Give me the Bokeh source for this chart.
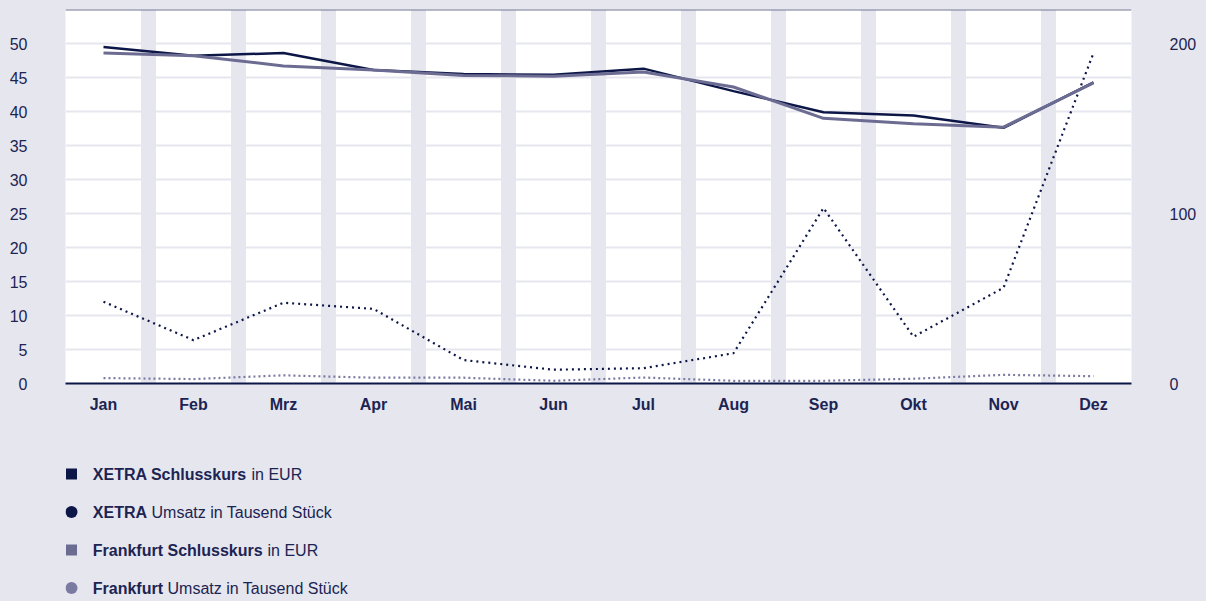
from bokeh.plotting import figure
from bokeh.models import Range1d, LinearAxis, FixedTicker, Span
from bokeh.layouts import column
from bokeh.core.properties import value
from bokeh.embed import file_html
from bokeh.resources import INLINE

# ---------------- data ----------------
months = ["Jan", "Feb", "Mrz", "Apr", "Mai", "Jun", "Jul", "Aug", "Sep", "Okt", "Nov", "Dez"]
xetra_kurs = [49.5, 48.2, 48.6, 46.1, 45.5, 45.4, 46.3, 43.0, 39.9, 39.4, 37.6, 44.3]
frankfurt_kurs = [48.6, 48.2, 46.7, 46.1, 45.3, 45.2, 45.8, 43.6, 39.0, 38.2, 37.7, 44.2]
xetra_umsatz = [48.1, 25.5, 47.5, 43.9, 13.8, 8.1, 9.0, 17.8, 103.2, 27.5, 56.3, 194.4]
frankfurt_umsatz = [3.2, 2.6, 4.8, 3.4, 3.4, 1.6, 3.5, 1.6, 1.6, 2.8, 5.1, 4.3]
left_ticks = [0, 5, 10, 15, 20, 25, 30, 35, 40, 45, 50]
right_ticks = [0, 100, 200]
legend_bold = ["XETRA Schlusskurs", "XETRA", "Frankfurt Schlusskurs", "Frankfurt"]
legend_regular = ["in EUR", "Umsatz in Tausend Stück", "in EUR", "Umsatz in Tausend Stück"]
legend_marker = ["square", "circle", "square", "circle"]

# ---------------- style ----------------
BG = "#e6e6ef"
NAVY = "#0d1747"
TXT = "#1b2452"
FRANK = "#6c6c93"
FRANK_LIGHT = "#7b7ba1"
FONT = "Liberation Sans"
W = 1206
FRAME_L, FRAME_R = 65, 1131

x = list(range(len(months)))

p = figure(width=W, height=428, output_backend="svg", toolbar_location=None, tools="",
           x_range=Range1d(-0.4222, 11.4222), y_range=Range1d(0, 55),
           min_border_left=FRAME_L, min_border_right=W - FRAME_R, min_border_top=9, min_border_bottom=45)
p.extra_y_ranges = {"r": Range1d(0, 220)}
p.background_fill_color = "white"
p.border_fill_color = BG
p.outline_line_color = None

# vertical bands between months
band_w = 15 / 90.0
p.quad(left=[i + 0.5 - band_w / 2 for i in range(11)],
       right=[i + 0.5 + band_w / 2 for i in range(11)],
       bottom=0, top=55, fill_color=BG, line_color=None)

# grid
p.xgrid.grid_line_color = None
p.ygrid.ticker = FixedTicker(ticks=left_ticks)
p.ygrid.grid_line_color = BG
p.ygrid.grid_line_width = 2

# lines
p.line(x, xetra_umsatz, y_range_name="r", line_color=NAVY, line_width=2.2, line_dash="2 4")
p.line(x, frankfurt_umsatz, y_range_name="r", line_color=FRANK_LIGHT, line_width=2.2, line_dash="2 3")
p.line(x, xetra_kurs, line_color=NAVY, line_width=2.5)
p.line(x, frankfurt_kurs, line_color=FRANK, line_width=3)

p.add_layout(Span(location=55, dimension="width", line_color="#6e7591", line_width=2))

# axes
xa = p.xaxis[0]
xa.ticker = FixedTicker(ticks=x)
xa.major_label_overrides = {i: m for i, m in enumerate(months)}
xa.axis_line_color = NAVY
xa.axis_line_width = 2
xa.major_tick_line_color = None
xa.minor_tick_line_color = None
xa.major_tick_out = 0
xa.major_label_standoff = 12
xa.major_label_text_font = FONT
xa.major_label_text_font_style = "bold"
xa.major_label_text_font_size = "16px"
xa.major_label_text_color = TXT

ya = p.yaxis[0]
ya.ticker = FixedTicker(ticks=left_ticks)
ya.axis_line_color = None
ya.major_tick_line_color = None
ya.minor_tick_line_color = None
ya.major_tick_out = 0
ya.major_label_standoff = 38
ya.major_label_text_font = FONT
ya.major_label_text_font_size = "16px"
ya.major_label_text_color = TXT

ra = LinearAxis(y_range_name="r", ticker=FixedTicker(ticks=right_ticks))
ra.axis_line_color = None
ra.major_tick_line_color = None
ra.minor_tick_line_color = None
ra.major_tick_out = 0
ra.major_label_standoff = 38
ra.major_label_text_font = FONT
ra.major_label_text_font_size = "16px"
ra.major_label_text_color = TXT
p.add_layout(ra, "right")

# ---------------- legend figure ----------------
# the column aligns this figure's frame with the chart frame, so its x range is in page pixels
LH = 172
lg = figure(width=W, height=LH, output_backend="svg", toolbar_location=None, tools="",
            x_range=Range1d(FRAME_L, FRAME_R), y_range=Range1d(LH, 0),
            x_axis_location=None, y_axis_location=None,
            min_border=0, min_border_left=FRAME_L, min_border_right=W - FRAME_R,
            min_border_top=0, min_border_bottom=0)
lg.grid.visible = False
lg.outline_line_color = None
lg.background_fill_color = BG
lg.border_fill_color = BG

row_y = [45.5, 83.5, 121.5, 159.5]
marker_colors = [NAVY, NAVY, FRANK, FRANK_LIGHT]
reg_x = [251, 151, 267, 167]

lg.scatter([71] * 4, row_y, marker=legend_marker, size=[11, 12, 11, 12],
           fill_color=marker_colors, line_color=None)
lg.text([92.3] * 4, row_y, text=legend_bold, text_font=value(FONT), text_font_style="bold",
        text_font_size="16px", text_color=TXT, text_baseline="middle", text_align="left")
lg.text(reg_x, row_y, text=legend_regular, text_font=value(FONT),
        text_font_size="16px", text_color=TXT, text_baseline="middle", text_align="left")

layout = column(p, lg, spacing=0)
html = file_html(layout, INLINE)
html = html.replace("</head>", "<style>html, body { background: %s; }</style></head>" % BG, 1)
open("out.html", "w").write(html)
